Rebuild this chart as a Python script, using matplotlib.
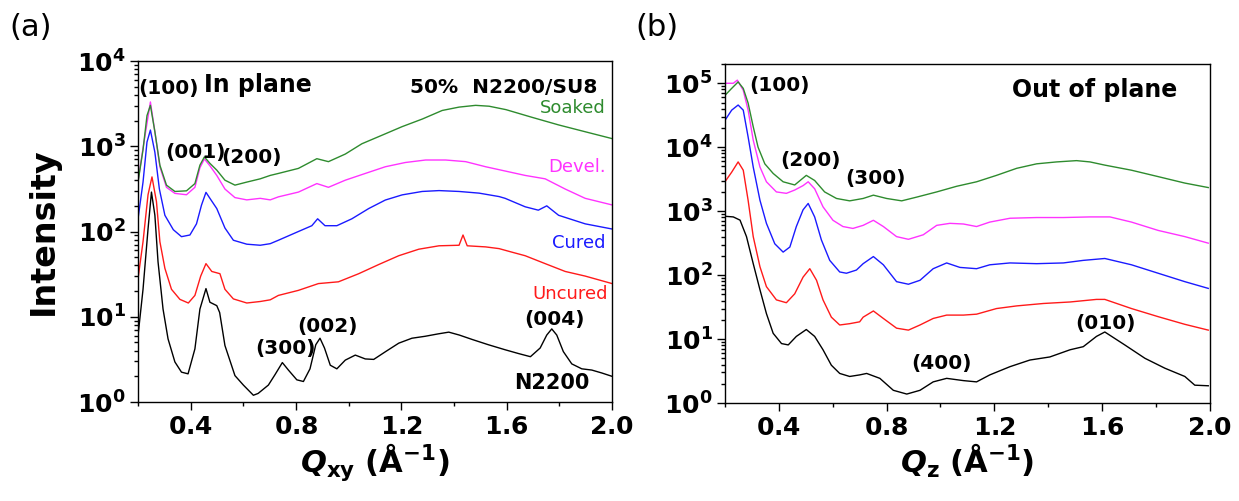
import numpy as np
import matplotlib
matplotlib.use("Agg")
import matplotlib.pyplot as plt
from matplotlib.ticker import LogLocator, FuncFormatter, MultipleLocator, NullFormatter

plt.rcParams['font.family'] = ['DejaVu Sans']
plt.rcParams['mathtext.fontset'] = 'custom'
plt.rcParams['mathtext.rm'] = 'DejaVu Sans'
plt.rcParams['mathtext.bf'] = 'DejaVu Sans:bold'
plt.rcParams['mathtext.it'] = 'DejaVu Sans:italic'
plt.rcParams['mathtext.bfit'] = 'DejaVu Sans:italic:bold'

# ---- (a) in plane ----
qa_n2200 = [0.2, 0.219, 0.238, 0.251, 0.264, 0.276, 0.295, 0.314, 0.34, 0.365, 0.39, 0.416, 0.435,
            0.458, 0.473, 0.499, 0.51, 0.53, 0.568, 0.6, 0.638, 0.656, 0.695, 0.72, 0.748, 0.771,
            0.803, 0.828, 0.853, 0.875, 0.891, 0.908, 0.93, 0.955, 0.987, 1.025, 1.063, 1.095, 1.14,
            1.19, 1.24, 1.29, 1.34, 1.38, 1.42, 1.47, 1.53, 1.594, 1.645, 1.69, 1.727, 1.752, 1.771,
            1.79, 1.815, 1.847, 1.885, 1.923, 1.961, 2.0]
ia_n2200 = [6.0, 21, 107, 290, 155, 44, 12.3, 5.5, 2.95, 2.24, 2.14, 4.2, 12.3,
            21.4, 14.8, 13.5, 11.2, 4.6, 2.04, 1.58, 1.2, 1.26, 1.58, 2.09, 2.9, 2.37,
            1.82, 1.74, 2.45, 4.7, 5.6, 4.3, 2.7, 2.45, 3.1, 3.55, 3.2, 3.16, 3.9,
            4.9, 5.6, 5.9, 6.3, 6.6, 6.1, 5.4, 4.7, 4.1, 3.7, 3.4, 4.3, 6.1, 7.2,
            6.1, 3.9, 2.8, 2.45, 2.37, 2.19, 2.0]

qa_uncured = [0.2, 0.219, 0.238, 0.253, 0.27, 0.283, 0.302, 0.327, 0.359, 0.391, 0.416, 0.438, 0.458,
              0.48, 0.511, 0.53, 0.562, 0.613, 0.664, 0.702, 0.733, 0.809, 0.885, 0.961, 1.038,
              1.114, 1.19, 1.266, 1.343, 1.419, 1.434, 1.45, 1.52, 1.571, 1.622, 1.67, 1.746,
              1.822, 1.898, 2.0]
ia_uncured = [28, 76, 270, 437, 224, 76, 37, 21, 16, 14.5, 17.8, 30, 42,
              34, 32, 21, 16.2, 14.5, 15.1, 15.8, 17.8, 20.4, 24.5, 25.7, 32,
              41, 52, 62, 68, 69, 91, 68, 66, 63, 57, 52, 42,
              34, 30, 24.5]

qa_cured = [0.2, 0.219, 0.234, 0.247, 0.264, 0.281, 0.302, 0.334, 0.365, 0.397, 0.422, 0.441, 0.458,
            0.473, 0.499, 0.53, 0.562, 0.613, 0.664, 0.702, 0.733, 0.809, 0.86, 0.882, 0.91, 0.955,
            1.012, 1.076, 1.139, 1.203, 1.279, 1.343, 1.419, 1.495, 1.571, 1.594, 1.67, 1.72,
            1.752, 1.797, 1.898, 2.0]
ia_cured = [141, 380, 1120, 1550, 850, 316, 155, 105, 87, 91, 123, 204, 288,
            245, 186, 110, 79, 71, 69, 72, 79, 100, 117, 141, 117, 117,
            141, 186, 234, 269, 295, 302, 295, 282, 257, 245, 195, 178,
            200, 155, 123, 107]

qa_devel = [0.2, 0.219, 0.247, 0.264, 0.283, 0.308, 0.34, 0.384, 0.416, 0.435, 0.452, 0.473, 0.499,
            0.53, 0.568, 0.613, 0.664, 0.702, 0.733, 0.809, 0.879, 0.923, 0.987, 1.063, 1.139,
            1.215, 1.292, 1.368, 1.444, 1.52, 1.597, 1.67, 1.746, 1.822, 1.898, 2.0]
ia_devel = [390, 950, 3310, 1480, 575, 330, 280, 270, 330, 560, 710, 590, 455,
            315, 250, 235, 245, 235, 255, 290, 365, 330, 400, 480, 575,
            645, 690, 690, 660, 575, 510, 455, 415, 315, 245, 205]

qa_soaked = [0.2, 0.219, 0.234, 0.247, 0.264, 0.283, 0.308, 0.34, 0.384, 0.416, 0.435, 0.452, 0.473,
             0.499, 0.53, 0.568, 0.613, 0.664, 0.702, 0.733, 0.809, 0.879, 0.923, 0.987, 1.05,
             1.127, 1.203, 1.28, 1.355, 1.419, 1.482, 1.533, 1.597, 1.695, 1.797, 1.898, 2.0]
ia_soaked = [380, 910, 2290, 3020, 1480, 600, 350, 295, 300, 365, 600, 750, 630,
             525, 400, 350, 380, 415, 455, 480, 550, 715, 660, 810, 1070,
             1350, 1700, 2090, 2630, 2880, 3020, 2950, 2690, 2190, 1780, 1480, 1230]

# ---- (b) out of plane ----
qb_n2200 = [0.2, 0.231, 0.256, 0.28, 0.305, 0.33, 0.354, 0.379, 0.41, 0.435, 0.465, 0.502, 0.533,
            0.564, 0.595, 0.626, 0.663, 0.7, 0.726, 0.775, 0.825, 0.875, 0.924, 0.973, 1.023,
            1.085, 1.134, 1.183, 1.258, 1.332, 1.406, 1.481, 1.53, 1.579, 1.61, 1.684, 1.759,
            1.833, 1.907, 1.944, 1.994]
ib_n2200 = [832, 813, 724, 400, 151, 59, 25, 12.3, 8.5, 8.1, 11, 14.1, 11,
            6.8, 3.9, 2.9, 2.6, 2.75, 2.9, 2.43, 1.58, 1.38, 1.58, 2.14, 2.43,
            2.24, 2.14, 2.75, 3.7, 4.7, 5.25, 6.8, 7.6, 11, 12.9, 8.1, 5.0,
            3.5, 2.6, 1.9, 1.86]

qb_uncured = [0.2, 0.225, 0.249, 0.268, 0.286, 0.305, 0.33, 0.354, 0.391, 0.428, 0.459, 0.49, 0.515,
              0.54, 0.564, 0.595, 0.626, 0.663, 0.7, 0.713, 0.751, 0.788, 0.837, 0.881, 0.924,
              0.973, 1.023, 1.085, 1.134, 1.208, 1.283, 1.382, 1.481, 1.579, 1.61, 1.709, 1.808,
              1.907, 1.994]
ib_uncured = [2880, 4070, 5890, 4370, 1480, 400, 135, 66, 41, 37, 51, 93, 126,
              83, 41, 22, 16.6, 17.4, 18.6, 22, 27.5, 21, 14.8, 13.8, 16.6,
              21, 23.7, 23.7, 24.5, 30, 33, 36, 38, 41.7, 41.7, 30, 22.4,
              17, 13.8]

qb_cured = [0.2, 0.225, 0.249, 0.268, 0.286, 0.305, 0.33, 0.354, 0.385, 0.416, 0.441, 0.465, 0.49,
            0.509, 0.533, 0.558, 0.589, 0.626, 0.651, 0.688, 0.713, 0.751, 0.788, 0.837, 0.881,
            0.924, 0.973, 1.023, 1.072, 1.134, 1.183, 1.258, 1.357, 1.456, 1.53, 1.61, 1.709,
            1.808, 1.907, 1.994]
ib_cured = [26300, 38000, 45700, 38000, 14500, 4900, 1480, 645, 309, 229, 275, 575, 1050,
            1320, 813, 355, 170, 112, 107, 120, 151, 195, 145, 79, 72,
            83, 126, 155, 132, 126, 145, 155, 151, 155, 170, 182, 145,
            107, 79, 62]

qb_devel = [0.2, 0.231, 0.246, 0.268, 0.286, 0.305, 0.33, 0.354, 0.391, 0.428, 0.459, 0.49, 0.509,
            0.533, 0.564, 0.601, 0.638, 0.675, 0.713, 0.751, 0.788, 0.837, 0.881, 0.936, 0.986,
            1.035, 1.085, 1.134, 1.183, 1.258, 1.357, 1.456, 1.555, 1.629, 1.709, 1.808, 1.907,
            1.994]
ib_devel = [100000, 100000, 112000, 77600, 38000, 12900, 4900, 2880, 2000, 1900, 2140, 2510, 2880,
            2240, 1170, 720, 575, 537, 600, 720, 575, 400, 363, 427, 600,
            645, 630, 575, 675, 775, 795, 795, 813, 813, 675, 500, 400,
            316]

qb_soaked = [0.2, 0.225, 0.249, 0.268, 0.286, 0.305, 0.323, 0.348, 0.379, 0.416, 0.459, 0.502, 0.533,
             0.57, 0.614, 0.663, 0.713, 0.751, 0.8, 0.856, 0.912, 0.986, 1.06, 1.134, 1.208,
             1.283, 1.357, 1.431, 1.505, 1.555, 1.61, 1.709, 1.808, 1.907, 1.994]
ib_soaked = [64600, 83200, 105000, 83200, 49000, 20900, 10000, 5500, 3890, 2880, 2570, 3630, 3020,
             2000, 1580, 1450, 1580, 1780, 1580, 1450, 1660, 2000, 2450, 2880, 3630,
             4680, 5500, 5890, 6170, 5890, 5250, 4370, 3470, 2750, 2340]

colors = {'N2200': 'black', 'Uncured': '#ff1a1a', 'Cured': '#1a1aff',
          'Devel.': '#ff33ff', 'Soaked': '#2e8b2e'}


def style_axis(ax, ymax):
    ax.set_yscale('log')
    ax.set_xlim(0.2, 2.0)
    ax.set_ylim(1, ymax)
    ax.xaxis.set_major_locator(MultipleLocator(0.4))
    ax.xaxis.set_minor_locator(MultipleLocator(0.2))
    ax.xaxis.set_major_formatter(FuncFormatter(lambda v, p: r'$\mathbf{%.1f}$' % v))
    ax.yaxis.set_major_locator(LogLocator(base=10))
    ax.yaxis.set_minor_locator(LogLocator(base=10, subs=np.arange(2, 10)))
    ax.yaxis.set_minor_formatter(NullFormatter())
    ax.yaxis.set_major_formatter(FuncFormatter(
        lambda v, p: r'$\mathbf{10^{%d}}$' % int(round(np.log10(v)))))
    ax.tick_params(which='both', direction='out', top=False, right=False, width=1)
    ax.tick_params(which='major', length=6, labelsize=18, pad=3)
    ax.tick_params(which='minor', length=3)
    for s in ax.spines.values():
        s.set_linewidth(1.0)


fig = plt.figure(figsize=(12.39, 5.01), dpi=100)
ax1 = fig.add_axes([0.1114, 0.1976, 0.3826, 0.6806])
ax2 = fig.add_axes([0.5851, 0.1956, 0.3914, 0.6766])

lw = 1.0
ax1.plot(qa_n2200, ia_n2200, color=colors['N2200'], lw=lw)
ax1.plot(qa_uncured, ia_uncured, color=colors['Uncured'], lw=lw)
ax1.plot(qa_cured, ia_cured, color=colors['Cured'], lw=lw)
ax1.plot(qa_devel, ia_devel, color=colors['Devel.'], lw=lw)
ax1.plot(qa_soaked, ia_soaked, color=colors['Soaked'], lw=lw)
style_axis(ax1, 1e4)

ax2.plot(qb_n2200, ib_n2200, color=colors['N2200'], lw=lw)
ax2.plot(qb_uncured, ib_uncured, color=colors['Uncured'], lw=lw)
ax2.plot(qb_cured, ib_cured, color=colors['Cured'], lw=lw)
ax2.plot(qb_devel, ib_devel, color=colors['Devel.'], lw=lw)
ax2.plot(qb_soaked, ib_soaked, color=colors['Soaked'], lw=lw)
style_axis(ax2, 2e5)

ax1.set_ylabel('Intensity', fontsize=24, fontweight='bold')
ax1.yaxis.set_label_coords(-0.165, 0.5)
ax1.set_xlabel(r'$\mathbfit{Q}_{\mathbf{xy}}\ \mathbf{(\AA^{-1})}$', fontsize=22, labelpad=2)
ax2.set_xlabel(r'$\mathbfit{Q}_{\mathbf{z}}\ \mathbf{(\AA^{-1})}$', fontsize=22, labelpad=2)

hkl = dict(fontsize=14.5, fontweight='bold', ha='center', va='center')
ax1.text(0.314, 4800, '(100)', **hkl)
ax1.text(0.417, 850, '(001)', **hkl)
ax1.text(0.63, 730, '(200)', **hkl)
ax1.text(0.76, 4.3, '(300)', **hkl)
ax1.text(0.919, 7.6, '(002)', **hkl)
ax1.text(1.782, 9.4, '(004)', **hkl)
ax1.text(0.45, 5200, 'In plane', fontsize=17, fontweight='bold', ha='left', va='center')
ax1.text(1.945, 4900, '50%  N2200/SU8', fontsize=14.5, fontweight='bold', ha='right', va='center')
ax1.text(1.77, 1.67, 'N2200', fontsize=15, fontweight='bold', ha='center', va='center')

lab = dict(fontsize=13, ha='right', va='center')
ax1.text(1.975, 2800, 'Soaked', color=colors['Soaked'], **lab)
ax1.text(1.975, 570, 'Devel.', color=colors['Devel.'], **lab)
ax1.text(1.975, 73, 'Cured', color=colors['Cured'], **lab)
ax1.text(1.985, 18.5, 'Uncured', color=colors['Uncured'], **lab)

ax2.text(0.404, 93000, '(100)', **hkl)
ax2.text(0.516, 6300, '(200)', **hkl)
ax2.text(0.757, 3300, '(300)', **hkl)
ax2.text(1.005, 4.2, '(400)', **hkl)
ax2.text(1.614, 17.8, '(010)', **hkl)
ax2.text(1.878, 78000, 'Out of plane', fontsize=17, fontweight='bold', ha='right', va='center')

fig.text(0.025, 0.945, '(a)', fontsize=22, ha='center', va='center')
fig.text(0.530, 0.945, '(b)', fontsize=22, ha='center', va='center')

fig.savefig('out.png', dpi=100)
